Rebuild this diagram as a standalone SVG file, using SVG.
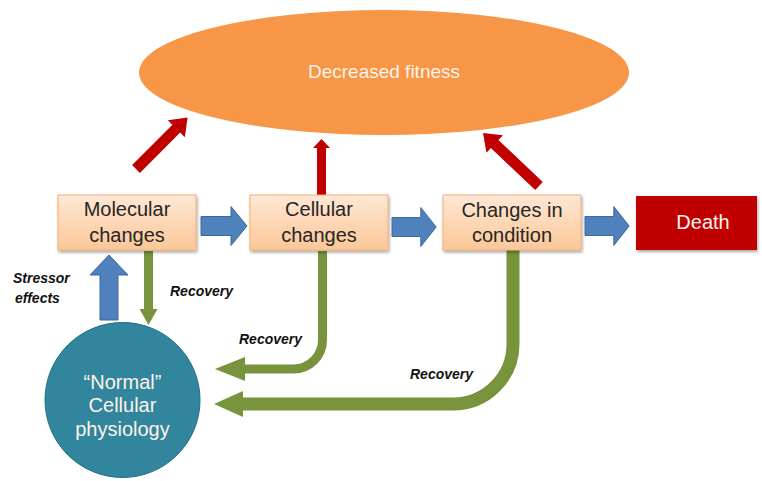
<svg xmlns="http://www.w3.org/2000/svg" width="762" height="481" viewBox="0 0 762 481">
  <defs>
    <linearGradient id="peach" x1="0" y1="0" x2="0" y2="1">
      <stop offset="0" stop-color="#fee8d6"/>
      <stop offset="0.5" stop-color="#fdd7b5"/>
      <stop offset="1" stop-color="#fbc899"/>
    </linearGradient>
    <filter id="shadow" x="-10%" y="-10%" width="130%" height="140%">
      <feGaussianBlur in="SourceAlpha" stdDeviation="1.5"/>
      <feOffset dx="1" dy="2" result="b"/>
      <feComponentTransfer><feFuncA type="linear" slope="0.35"/></feComponentTransfer>
      <feMerge><feMergeNode/><feMergeNode in="SourceGraphic"/></feMerge>
    </filter>
    <!-- block arrow pointing right, origin at tail centre -->
    <polygon id="blueRight" points="0,-9.5 30,-9.5 30,-19.5 46,0 30,19.5 30,9.5 0,9.5"/>
  </defs>
  <style>
    .box { fill: url(#peach); stroke: #f5ae75; stroke-width: 1; filter: url(#shadow); }
    .boxText { font-family: "Liberation Sans", Arial, sans-serif; font-size: 20px; fill: #262626; text-anchor: middle; }
    .lightText { font-family: "Liberation Sans", Arial, sans-serif; fill: #fdf3ea; text-anchor: middle; }
    .label { font-family: "Liberation Sans", Arial, sans-serif; font-size: 14px; font-weight: bold; font-style: italic; fill: #111; }
    .blue { fill: #4f81bd; stroke: #3c6898; stroke-width: 1; }
    .red { fill: #c00000; }
    .green { fill: none; stroke: #77933c; }
    .greenHead { fill: #77933c; }
  </style>

  <!-- top outcome -->
  <g id="decreased-fitness">
    <ellipse cx="384" cy="72.5" rx="245" ry="62.5" fill="#f79646"/>
    <text class="lightText" x="384" y="78" font-size="19">Decreased fitness</text>
  </g>

  <g id="connectors">
    <!-- red arrows into the fitness ellipse -->
    <polygon class="red" transform="translate(136,169) rotate(-45)" points="0,-5.5 57,-5.5 57,-12 73,0 57,12 57,5.5 0,5.5"/>
    <polygon class="red" points="317,195 317,148 313,148 321.5,139 330,148 326,148 326,195"/>
    <polygon class="red" transform="translate(539,186) rotate(-136.6)" points="0,-5.5 61,-5.5 61,-12 77,0 61,12 61,5.5 0,5.5"/>

    <!-- blue progression arrows -->
    <use href="#blueRight" class="blue" x="0" y="0" transform="translate(201,226)"/>
    <use href="#blueRight" class="blue" transform="translate(392,227) scale(0.96,1)"/>
    <use href="#blueRight" class="blue" transform="translate(585,226) scale(0.96,1)"/>

    <!-- stressor effects arrow (up) -->
    <polygon class="blue" points="100,320 100,275 90,275 109,255 128,275 118,275 118,320"/>

    <!-- recovery: molecular -> normal -->
    <line class="green" x1="148.5" y1="251" x2="148.5" y2="310" stroke-width="9"/>
    <polygon class="greenHead" points="139.5,309 157.5,309 148.5,325"/>

    <!-- recovery: cellular -> normal -->
    <path class="green" d="M322.5,251 V340 A29,29 0 0 1 293.5,369 H244" stroke-width="9"/>
    <polygon class="greenHead" points="245,357 245,381 215,369"/>

    <!-- recovery: condition -> normal -->
    <path class="green" d="M513,250 V344 A60,60 0 0 1 453,404 H242" stroke-width="13"/>
    <polygon class="greenHead" points="243,391 243,417 214,404"/>
  </g>

  <g id="molecular-changes">
    <rect class="box" x="58" y="195" width="138" height="55"/>
    <text class="boxText" x="127" y="216">Molecular</text>
    <text class="boxText" x="127" y="242">changes</text>
  </g>

  <g id="cellular-changes">
    <rect class="box" x="250" y="195" width="138" height="55"/>
    <text class="boxText" x="319" y="216">Cellular</text>
    <text class="boxText" x="319" y="242">changes</text>
  </g>

  <g id="changes-in-condition">
    <rect class="box" x="443" y="195" width="138" height="55"/>
    <text class="boxText" x="512" y="217">Changes in</text>
    <text class="boxText" x="512" y="242">condition</text>
  </g>

  <g id="death">
    <rect x="636" y="196" width="121" height="54" fill="#c00000" filter="url(#shadow)"/>
    <text class="lightText" x="703" y="229" font-size="20">Death</text>
  </g>

  <g id="normal-physiology">
    <circle cx="122.5" cy="400" r="77.5" fill="#31859c" stroke="#276b7e" stroke-width="1"/>
    <text class="lightText" x="122.5" y="389" font-size="20">“Normal”</text>
    <text class="lightText" x="122.5" y="412" font-size="20">Cellular</text>
    <text class="lightText" x="122.5" y="436" font-size="20">physiology</text>
  </g>

  <g id="labels">
    <text class="label" x="13" y="283">Stressor</text>
    <text class="label" x="15" y="303">effects</text>
    <text class="label" x="170" y="296">Recovery</text>
    <text class="label" x="239" y="344">Recovery</text>
    <text class="label" x="410" y="379">Recovery</text>
  </g>
</svg>
